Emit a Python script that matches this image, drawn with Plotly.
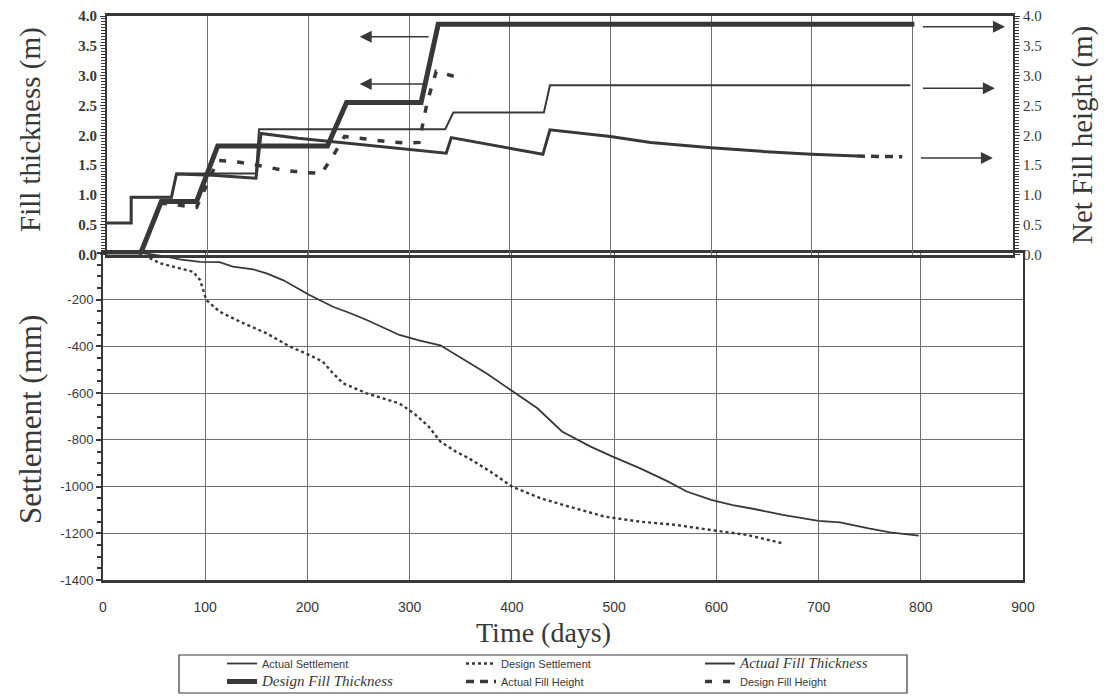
import plotly.graph_objects as go

# ---------------- data ----------------
# Design fill thickness (m)
design_thk_days = [0, 33, 54, 89, 110, 219, 238, 312, 329, 802]
design_thk_m = [0.0, 0.0, 0.89, 0.89, 1.82, 1.82, 2.55, 2.55, 3.86, 3.86]

# Actual fill thickness (m)
actual_thk_days = [0, 24, 24, 64, 69, 148, 151, 336, 344, 434, 440, 798]
actual_thk_m = [0.53, 0.53, 0.96, 0.96, 1.36, 1.36, 2.10, 2.10, 2.38, 2.38, 2.84, 2.84]

# Actual net fill height (m)
actual_hgt_days = [0, 24, 24, 64, 69, 105, 148, 153, 190, 235, 280, 310, 337, 342,
                   387, 433, 440, 500, 540, 600, 650, 700, 745]
actual_hgt_m = [0.53, 0.53, 0.96, 0.96, 1.35, 1.33, 1.28, 2.03, 1.95, 1.87, 1.79, 1.74, 1.70, 1.96,
                1.82, 1.68, 2.09, 1.98, 1.88, 1.79, 1.73, 1.68, 1.65]
# projected tail of the actual net fill height
actual_hgt_tail_days = [745, 790]
actual_hgt_tail_m = [1.65, 1.64]

# Design net fill height (m)
design_hgt_days = [33, 54, 70, 89, 110, 130, 152, 173, 193, 213, 224, 236, 261, 279,
                   299, 310, 318, 327, 340, 355]
design_hgt_m = [0.0, 0.86, 0.83, 0.79, 1.58, 1.55, 1.49, 1.42, 1.38, 1.36, 1.64, 1.98, 1.93, 1.89,
                1.87, 1.88, 2.55, 3.07, 3.01, 2.94]

# Actual settlement (mm)
actual_set_days = [0, 39, 62, 75, 95, 114, 127, 147, 160, 176, 202, 225, 242, 258, 290, 310,
                   330, 350, 375, 400, 425, 449, 477, 498, 525, 553, 571, 595, 616, 637, 665,
                   700, 721, 749, 770, 798]
actual_set_mm = [0, 0, -16, -27, -38, -39, -58, -70, -87, -116, -180, -230, -258, -287, -351, -375,
                 -395, -450, -515, -590, -665, -764, -829, -871, -921, -979, -1021, -1057, -1079,
                 -1096, -1121, -1147, -1153, -1179, -1196, -1210]

# Design settlement (mm)
design_set_days = [35, 43, 56, 75, 88, 95, 101, 114, 134, 160, 183, 202, 215, 225, 235, 258, 290,
                   305, 318, 330, 345, 358, 379, 400, 428, 456, 491, 525, 560, 595, 630, 665]
design_set_mm = [0, -16, -44, -66, -80, -116, -201, -251, -294, -344, -401, -437, -465, -515, -558,
                 -601, -644, -690, -740, -807, -850, -879, -936, -1000, -1050, -1086, -1129, -1150,
                 -1164, -1186, -1207, -1243]

settle_tick_vals = [-1400, -1200, -1000, -800, -600, -400, -200]
settle_tick_text = ["-1400", "-1200", "-1000", "-800", "-600", "-400", "-200"]
fill_tick_step = 0.5
fill_grid_step = 0.8

# ---------------- styling ----------------
W, H = 1104, 697
INK = "#383838"
GRID = "#6e6e6e"
SERIF = "Liberation Serif, Times New Roman, serif"
SANS = "Liberation Sans, Arial, sans-serif"


def fx(p):
    return p / W


def fy(p):
    return 1 - p / H


fig = go.Figure()

# settlement panel
fig.add_trace(go.Scatter(x=actual_set_days, y=actual_set_mm, mode="lines",
                         name="Actual Settlement", legend="legend",
                         line=dict(color=INK, width=1.8), xaxis="x", yaxis="y"))
fig.add_trace(go.Scatter(x=design_set_days, y=design_set_mm, mode="lines",
                         name="Design Settlement", legend="legend",
                         line=dict(color=INK, width=2.4, dash="dot"), xaxis="x", yaxis="y"))

# fill panel
italic = "<i><span style='font-family:Liberation Serif;font-size:15px'>%s</span></i>"
fig.add_trace(go.Scatter(x=actual_thk_days, y=actual_thk_m, mode="lines",
                         name=italic % "Actual Fill Thickness", legend="legend",
                         line=dict(color=INK, width=2), xaxis="x2", yaxis="y2"))
fig.add_trace(go.Scatter(x=design_thk_days, y=design_thk_m, mode="lines",
                         name=italic % "Design Fill Thickness", legend="legend2",
                         line=dict(color=INK, width=5), xaxis="x2", yaxis="y2"))
fig.add_trace(go.Scatter(x=actual_hgt_days, y=actual_hgt_m, mode="lines",
                         showlegend=False,
                         line=dict(color=INK, width=3), xaxis="x2", yaxis="y3"))
fig.add_trace(go.Scatter(x=actual_hgt_tail_days, y=actual_hgt_tail_m, mode="lines",
                         name="Actual Fill Height", legend="legend2",
                         line=dict(color=INK, width=3.5, dash="8px,6px"), xaxis="x2", yaxis="y3"))
fig.add_trace(go.Scatter(x=design_hgt_days, y=design_hgt_m, mode="lines",
                         name="Design Fill Height", legend="legend2",
                         line=dict(color=INK, width=3.5, dash="7px,11px"), xaxis="x2", yaxis="y3"))

top_dom_x = [fx(107), fx(1013)]
top_dom_y = [fy(254.5), fy(16)]
bot_dom_x = [fx(103), fx(1023)]
bot_dom_y = [fy(580), fy(253)]

legend_common = dict(orientation="h", xanchor="left", yanchor="top",
                     entrywidth=194, entrywidthmode="pixels", itemwidth=30,
                     bgcolor="rgba(0,0,0,0)", borderwidth=0,
                     font=dict(family=SANS, size=11, color=INK))

fig.update_layout(
    width=W, height=H,
    margin=dict(l=0, r=0, t=0, b=0, autoexpand=False),
    paper_bgcolor="white", plot_bgcolor="rgba(0,0,0,0)",
    font=dict(family=SANS, color=INK),
    # settlement panel axes
    xaxis=dict(domain=bot_dom_x, range=[0, 900], dtick=100, tick0=0, anchor="y",
               automargin=False,
               showgrid=True, gridcolor=GRID, gridwidth=1, zeroline=False,
               showline=True, linecolor=INK, linewidth=2.5, mirror=True,
               ticks="", ticklabelstandoff=12,
               tickfont=dict(family=SANS, size=14, color=INK)),
    yaxis=dict(domain=bot_dom_y, range=[-1400, 0], tickvals=settle_tick_vals,
               ticktext=settle_tick_text, anchor="x", automargin=False,
               showgrid=True, gridcolor=GRID, gridwidth=1.2, zeroline=False,
               showline=True, linecolor=INK, linewidth=2, mirror=True,
               ticks="outside", ticklen=5, tickwidth=1.5, tickcolor=INK,
               minor=dict(dtick=50, ticks="outside", ticklen=4, tickwidth=1.5, tickcolor=INK),
               tickfont=dict(family=SANS, size=13, color=INK)),
    # fill panel axes
    xaxis2=dict(domain=top_dom_x, range=[0, 900], dtick=100, tick0=0, anchor="y2",
                automargin=False,
                showgrid=True, gridcolor=GRID, gridwidth=1, zeroline=False,
                showline=True, linecolor=INK, linewidth=2.5, mirror=True,
                ticks="", showticklabels=False),
    xaxis3=dict(overlaying="x2", anchor="y2", range=[0, 900], dtick=20, tick0=0,
                automargin=False,
                showgrid=False, zeroline=False, showline=False, showticklabels=False,
                ticks="outside", ticklen=5, tickwidth=1.5, tickcolor=INK),
    xaxis4=dict(overlaying="x2", anchor="y2", range=[0, 900], dtick=20, tick0=0,
                automargin=False,
                showgrid=False, zeroline=False, showline=False, showticklabels=False,
                ticks="inside", ticklen=5, tickwidth=1.5, tickcolor=INK),
    yaxis2=dict(domain=top_dom_y, range=[0, 4], dtick=fill_tick_step, tick0=0, tickformat=".1f",
                anchor="x2", automargin=False, showgrid=False, zeroline=False,
                showline=True, linecolor=INK, linewidth=2,
                ticks="outside", ticklen=5, tickwidth=1.2, tickcolor=INK,
                minor=dict(dtick=0.05, ticks="outside", ticklen=4, tickwidth=1, tickcolor=INK),
                tickfont=dict(family=SERIF, size=15, color=INK, weight="bold")),
    yaxis3=dict(overlaying="y2", side="right", anchor="x2", range=[0, 4],
                dtick=fill_tick_step, tick0=0, tickformat=".1f", automargin=False,
                showgrid=False, zeroline=False,
                showline=True, linecolor=INK, linewidth=2,
                ticks="outside", ticklen=5, tickwidth=1.2, tickcolor=INK,
                minor=dict(dtick=0.05, ticks="outside", ticklen=4, tickwidth=1, tickcolor=INK),
                tickfont=dict(family=SERIF, size=15, color=INK)),
    yaxis4=dict(overlaying="y2", anchor="x2", range=[0, 4], dtick=fill_grid_step, tick0=0,
                automargin=False,
                showgrid=True, gridcolor=GRID, gridwidth=1.2, zeroline=False,
                showline=False, showticklabels=False, ticks=""),
    legend=dict(x=fx(222), y=fy(649), **legend_common),
    legend2=dict(x=fx(222), y=fy(667), **legend_common),
)

# frame around the two legend rows
fig.add_shape(type="rect", xref="paper", yref="paper",
              x0=fx(179), x1=fx(907), y0=fy(693), y1=fy(655),
              line=dict(color=INK, width=1.2), fillcolor="rgba(0,0,0,0)")

# axis titles
annots = [
    dict(text="Fill thickness (m)", x=fx(30), y=fy(130), textangle=-90, size=29),
    dict(text="Settlement (mm)", x=fx(30), y=fy(420), textangle=-90, size=31),
    dict(text="Net Fill height (m)", x=fx(1082), y=fy(135), textangle=-90, size=29),
    dict(text="Time (days)", x=fx(543), y=fy(632), textangle=0, size=28),
]
for a in annots:
    size = a.pop("size")
    fig.add_annotation(xref="paper", yref="paper", showarrow=False,
                       xanchor="center", yanchor="middle",
                       font=dict(family=SERIF, size=size, color=INK), **a)

# arrows pointing to the axis each curve is read against
arrows = [
    (321, 251, 3.65), (316, 251, 2.86),
    (809, 892, 3.82), (809, 882, 2.79), (807, 880, 1.62),
]
for x_from, x_to, yv in arrows:
    fig.add_annotation(x=x_to, y=yv, ax=x_from, ay=yv, xref="x2", yref="y2",
                       axref="x2", ayref="y2", text="", showarrow=True,
                       arrowhead=2, arrowsize=1.6, arrowwidth=1.5, arrowcolor=INK)

fig.write_html("out.html")
